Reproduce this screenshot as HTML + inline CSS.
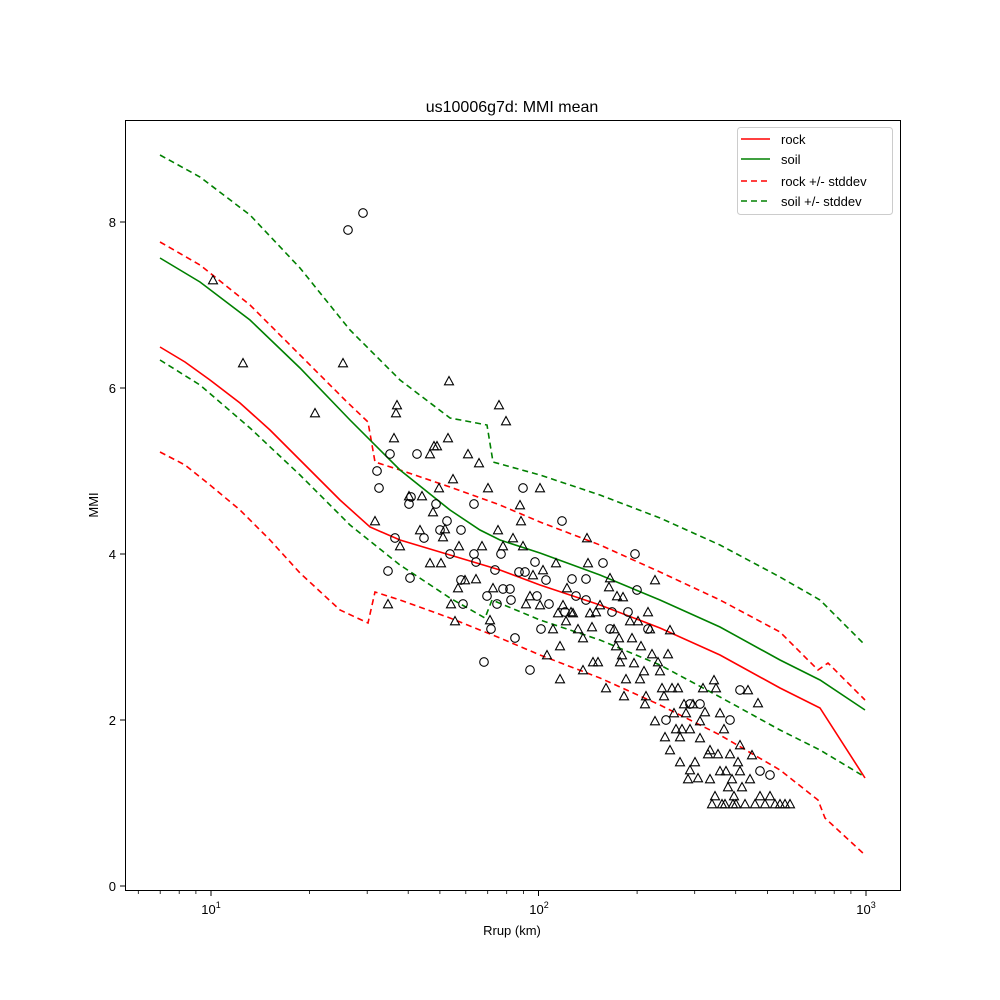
<!DOCTYPE html>
<html><head><meta charset="utf-8"><style>body{margin:0;background:#fff}svg{display:block}text{font-family:"Liberation Sans","DejaVu Sans",sans-serif;fill:#000}</style></head><body>
<svg width="1000" height="1000" viewBox="0 0 1000 1000" xmlns="http://www.w3.org/2000/svg">
<defs>
<circle id="c" r="4.3" fill="none" stroke="#000" stroke-width="1.1"/>
<polygon id="t" points="0,-4.5 -4.5,3.8 4.5,3.8" fill="none" stroke="#000" stroke-width="1.1"/>
</defs>
<rect width="1000" height="1000" fill="#fff"/>
<text x="512" y="112" font-size="16" text-anchor="middle">us10006g7d: MMI mean</text>
<g fill="none" stroke-width="1.6">
<polyline stroke="#008000" points="160,155 200,177 250,215 300,268 350,330 400,380 450,418 487,425 493,462 540,475 600,495 660,518 720,545 780,577 820,600 865,645" stroke-dasharray="6,4"/>
<polyline stroke="#ff0000" points="160,242 200,265 250,305 300,355 345,400 368,422 375,462 400,470 450,487 500,505 540,522 600,545 660,572 720,600 780,632 818,670 828,663 865,700" stroke-dasharray="6,4"/>
<polyline stroke="#008000" points="160,360 200,385 250,428 300,475 350,525 400,565 450,598 485,618 492,600 540,620 600,640 660,665 720,697 780,730 820,750 865,777" stroke-dasharray="6,4"/>
<polyline stroke="#ff0000" points="160,452 185,465 210,485 240,510 270,540 300,573 340,610 368,623 375,592 400,600 450,618 500,638 540,655 600,678 660,705 720,735 780,770 818,800 825,818 865,855" stroke-dasharray="6,4"/>
<polyline stroke="#008000" points="160,258 200,282 250,320 300,368 350,420 400,470 450,510 480,530 500,540 540,553 600,575 660,600 720,627 780,660 820,680 865,710"/>
<polyline stroke="#ff0000" points="160,347 185,362 210,380 240,403 270,430 300,460 340,500 370,527 400,540 450,555 500,570 540,585 600,605 660,628 720,655 780,688 820,708 865,778"/>
</g>
<g>
<use href="#c" x="348" y="230"/><use href="#c" x="363" y="213"/><use href="#c" x="377" y="471"/><use href="#c" x="379" y="488"/><use href="#c" x="390" y="454"/><use href="#c" x="388" y="571"/><use href="#c" x="395" y="538"/><use href="#c" x="409" y="504"/><use href="#c" x="410" y="578"/><use href="#c" x="411" y="497"/><use href="#c" x="417" y="454"/><use href="#c" x="424" y="538"/><use href="#c" x="436" y="504"/><use href="#c" x="440" y="530"/><use href="#c" x="447" y="521"/><use href="#c" x="450" y="554"/><use href="#c" x="461" y="530"/><use href="#c" x="461" y="580"/><use href="#c" x="463" y="604"/><use href="#c" x="474" y="504"/><use href="#c" x="474" y="554"/><use href="#c" x="476" y="562"/><use href="#c" x="484" y="662"/><use href="#c" x="487" y="596"/><use href="#c" x="491" y="629"/><use href="#c" x="495" y="570"/><use href="#c" x="497" y="604"/><use href="#c" x="501" y="554"/><use href="#c" x="503" y="589"/><use href="#c" x="510" y="589"/><use href="#c" x="511" y="600"/><use href="#c" x="515" y="638"/><use href="#c" x="519" y="572"/><use href="#c" x="523" y="488"/><use href="#c" x="525" y="572"/><use href="#c" x="530" y="670"/><use href="#c" x="535" y="562"/><use href="#c" x="537" y="596"/><use href="#c" x="541" y="629"/><use href="#c" x="546" y="580"/><use href="#c" x="549" y="604"/><use href="#c" x="562" y="521"/><use href="#c" x="565" y="612"/><use href="#c" x="572" y="579"/><use href="#c" x="576" y="596"/><use href="#c" x="586" y="579"/><use href="#c" x="586" y="600"/><use href="#c" x="603" y="563"/><use href="#c" x="610" y="629"/><use href="#c" x="612" y="612"/><use href="#c" x="628" y="612"/><use href="#c" x="635" y="554"/><use href="#c" x="637" y="590"/><use href="#c" x="648" y="629"/><use href="#c" x="666" y="720"/><use href="#c" x="690" y="704"/><use href="#c" x="700" y="704"/><use href="#c" x="760" y="771"/><use href="#c" x="770" y="775"/><use href="#c" x="740" y="690"/><use href="#c" x="730" y="720"/>
<use href="#t" x="213" y="280"/><use href="#t" x="243" y="363"/><use href="#t" x="315" y="413"/><use href="#t" x="343" y="363"/><use href="#t" x="375" y="521"/><use href="#t" x="388" y="604"/><use href="#t" x="394" y="438"/><use href="#t" x="396" y="413"/><use href="#t" x="397" y="405"/><use href="#t" x="400" y="546"/><use href="#t" x="409" y="496"/><use href="#t" x="420" y="530"/><use href="#t" x="422" y="496"/><use href="#t" x="430" y="563"/><use href="#t" x="430" y="454"/><use href="#t" x="433" y="512"/><use href="#t" x="434" y="446"/><use href="#t" x="437" y="446"/><use href="#t" x="439" y="488"/><use href="#t" x="441" y="563"/><use href="#t" x="443" y="537"/><use href="#t" x="445" y="529"/><use href="#t" x="448" y="438"/><use href="#t" x="449" y="381"/><use href="#t" x="451" y="604"/><use href="#t" x="453" y="479"/><use href="#t" x="455" y="621"/><use href="#t" x="458" y="588"/><use href="#t" x="459" y="546"/><use href="#t" x="465" y="580"/><use href="#t" x="468" y="454"/><use href="#t" x="476" y="579"/><use href="#t" x="479" y="463"/><use href="#t" x="482" y="546"/><use href="#t" x="488" y="488"/><use href="#t" x="490" y="620"/><use href="#t" x="493" y="588"/><use href="#t" x="498" y="530"/><use href="#t" x="499" y="405"/><use href="#t" x="503" y="546"/><use href="#t" x="506" y="421"/><use href="#t" x="513" y="538"/><use href="#t" x="520" y="505"/><use href="#t" x="521" y="521"/><use href="#t" x="523" y="546"/><use href="#t" x="526" y="604"/><use href="#t" x="530" y="596"/><use href="#t" x="533" y="575"/><use href="#t" x="540" y="488"/><use href="#t" x="540" y="605"/><use href="#t" x="543" y="570"/><use href="#t" x="547" y="655"/><use href="#t" x="553" y="629"/><use href="#t" x="556" y="563"/><use href="#t" x="558" y="613"/><use href="#t" x="560" y="646"/><use href="#t" x="563" y="605"/><use href="#t" x="566" y="621"/><use href="#t" x="567" y="588"/><use href="#t" x="571" y="612"/><use href="#t" x="578" y="629"/><use href="#t" x="583" y="638"/><use href="#t" x="587" y="538"/><use href="#t" x="588" y="563"/><use href="#t" x="590" y="613"/><use href="#t" x="592" y="627"/><use href="#t" x="596" y="612"/><use href="#t" x="598" y="662"/><use href="#t" x="600" y="605"/><use href="#t" x="606" y="688"/><use href="#t" x="609" y="587"/><use href="#t" x="614" y="629"/><use href="#t" x="616" y="646"/><use href="#t" x="619" y="638"/><use href="#t" x="620" y="662"/><use href="#t" x="622" y="655"/><use href="#t" x="624" y="696"/><use href="#t" x="630" y="621"/><use href="#t" x="632" y="638"/><use href="#t" x="634" y="663"/><use href="#t" x="638" y="621"/><use href="#t" x="641" y="646"/><use href="#t" x="644" y="671"/><use href="#t" x="646" y="696"/><use href="#t" x="648" y="612"/><use href="#t" x="650" y="629"/><use href="#t" x="652" y="654"/><use href="#t" x="655" y="580"/><use href="#t" x="658" y="662"/><use href="#t" x="660" y="671"/><use href="#t" x="662" y="688"/><use href="#t" x="664" y="696"/><use href="#t" x="668" y="654"/><use href="#t" x="670" y="630"/><use href="#t" x="672" y="688"/><use href="#t" x="674" y="713"/><use href="#t" x="676" y="729"/><use href="#t" x="678" y="688"/><use href="#t" x="680" y="762"/><use href="#t" x="682" y="729"/><use href="#t" x="684" y="704"/><use href="#t" x="686" y="713"/><use href="#t" x="688" y="779"/><use href="#t" x="690" y="729"/><use href="#t" x="693" y="704"/><use href="#t" x="695" y="762"/><use href="#t" x="698" y="778"/><use href="#t" x="700" y="721"/><use href="#t" x="703" y="688"/><use href="#t" x="705" y="712"/><use href="#t" x="708" y="754"/><use href="#t" x="710" y="779"/><use href="#t" x="712" y="804"/><use href="#t" x="714" y="680"/><use href="#t" x="716" y="688"/><use href="#t" x="718" y="754"/><use href="#t" x="720" y="713"/><use href="#t" x="722" y="804"/><use href="#t" x="724" y="729"/><use href="#t" x="726" y="771"/><use href="#t" x="728" y="787"/><use href="#t" x="730" y="754"/><use href="#t" x="732" y="779"/><use href="#t" x="734" y="796"/><use href="#t" x="736" y="804"/><use href="#t" x="738" y="762"/><use href="#t" x="740" y="745"/><use href="#t" x="742" y="787"/><use href="#t" x="745" y="804"/><use href="#t" x="748" y="690"/><use href="#t" x="750" y="779"/><use href="#t" x="752" y="755"/><use href="#t" x="755" y="804"/><use href="#t" x="758" y="703"/><use href="#t" x="760" y="796"/><use href="#t" x="765" y="804"/><use href="#t" x="770" y="796"/><use href="#t" x="775" y="804"/><use href="#t" x="780" y="804"/><use href="#t" x="785" y="804"/><use href="#t" x="790" y="804"/><use href="#t" x="583" y="670"/><use href="#t" x="560" y="679"/><use href="#t" x="593" y="662"/><use href="#t" x="610" y="578"/><use href="#t" x="617" y="596"/><use href="#t" x="573" y="613"/><use href="#t" x="623" y="597"/><use href="#t" x="626" y="679"/><use href="#t" x="640" y="679"/><use href="#t" x="645" y="704"/><use href="#t" x="655" y="721"/><use href="#t" x="665" y="737"/><use href="#t" x="670" y="750"/><use href="#t" x="680" y="737"/><use href="#t" x="690" y="770"/><use href="#t" x="700" y="738"/><use href="#t" x="710" y="750"/><use href="#t" x="720" y="771"/><use href="#t" x="740" y="771"/><use href="#t" x="715" y="796"/><use href="#t" x="725" y="804"/><use href="#t" x="733" y="804"/>
</g>
<rect x="125.5" y="120.5" width="775" height="770" fill="none" stroke="#000" stroke-width="1"/>
<g stroke="#000" stroke-width="1">
<line x1="211" y1="891" x2="211" y2="896"/><line x1="538.5" y1="891" x2="538.5" y2="896"/><line x1="866" y1="891" x2="866" y2="896"/>
<g stroke-width="0.8">
<line x1="138.3" y1="891" x2="138.3" y2="894"/><line x1="160.2" y1="891" x2="160.2" y2="894"/><line x1="179.2" y1="891" x2="179.2" y2="894"/><line x1="195.9" y1="891" x2="195.9" y2="894"/>
<line x1="309.6" y1="891" x2="309.6" y2="894"/><line x1="367.2" y1="891" x2="367.2" y2="894"/><line x1="408.2" y1="891" x2="408.2" y2="894"/><line x1="439.9" y1="891" x2="439.9" y2="894"/><line x1="465.8" y1="891" x2="465.8" y2="894"/><line x1="487.7" y1="891" x2="487.7" y2="894"/><line x1="506.7" y1="891" x2="506.7" y2="894"/><line x1="523.4" y1="891" x2="523.4" y2="894"/>
<line x1="637.1" y1="891" x2="637.1" y2="894"/><line x1="694.7" y1="891" x2="694.7" y2="894"/><line x1="735.7" y1="891" x2="735.7" y2="894"/><line x1="767.4" y1="891" x2="767.4" y2="894"/><line x1="793.3" y1="891" x2="793.3" y2="894"/><line x1="815.2" y1="891" x2="815.2" y2="894"/><line x1="834.2" y1="891" x2="834.2" y2="894"/><line x1="850.9" y1="891" x2="850.9" y2="894"/>
</g>
<line x1="120" y1="886" x2="125" y2="886"/><line x1="120" y1="720" x2="125" y2="720"/><line x1="120" y1="554" x2="125" y2="554"/><line x1="120" y1="388" x2="125" y2="388"/><line x1="120" y1="222" x2="125" y2="222"/>
</g>
<g font-size="13">
<text x="211" y="914" text-anchor="middle">10<tspan font-size="9" dy="-6">1</tspan></text>
<text x="539" y="914" text-anchor="middle">10<tspan font-size="9" dy="-6">2</tspan></text>
<text x="866" y="914" text-anchor="middle">10<tspan font-size="9" dy="-6">3</tspan></text>
<g text-anchor="end"><text x="116" y="891">0</text><text x="116" y="725">2</text><text x="116" y="559">4</text><text x="116" y="393">6</text><text x="116" y="227">8</text></g>
<text x="512" y="935" text-anchor="middle">Rrup (km)</text>
<text x="98" y="505" text-anchor="middle" transform="rotate(-90 98 505)">MMI</text>
</g>
<rect x="737.5" y="127.5" width="155" height="87" rx="3" fill="#fff" stroke="#ccc"/>
<g stroke-width="1.6">
<line x1="741" y1="139" x2="770" y2="139" stroke="#ff0000"/>
<line x1="741" y1="159" x2="770" y2="159" stroke="#008000"/>
<line x1="741" y1="181" x2="770" y2="181" stroke="#ff0000" stroke-dasharray="6,4"/>
<line x1="741" y1="201" x2="770" y2="201" stroke="#008000" stroke-dasharray="6,4"/>
</g>
<g font-size="13"><text x="781" y="144">rock</text><text x="781" y="164">soil</text><text x="781" y="186">rock +/- stddev</text><text x="781" y="206">soil +/- stddev</text></g>
</svg>
</body></html>
